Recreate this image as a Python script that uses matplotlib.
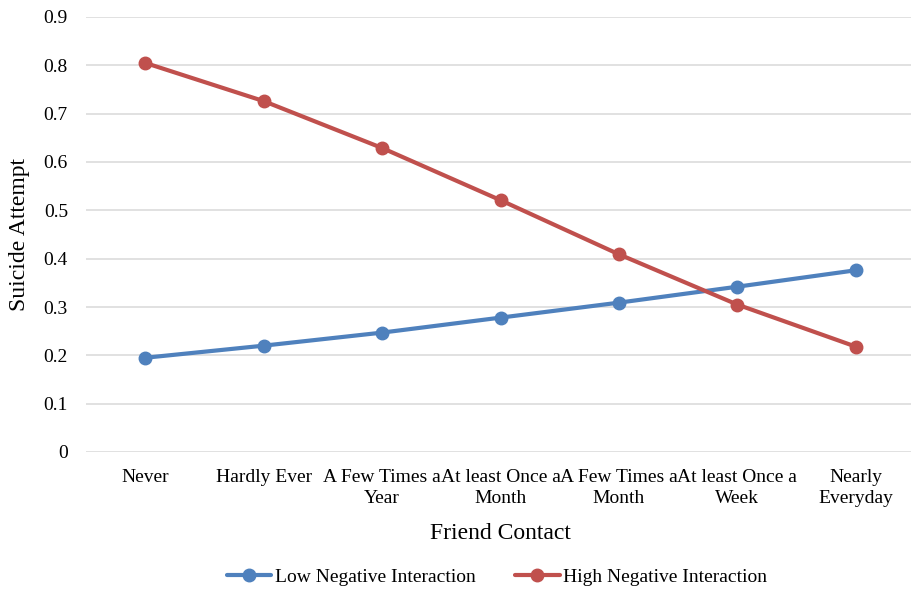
import matplotlib
matplotlib.use("Agg")
import matplotlib.pyplot as plt

categories = ["Never", "Hardly Ever", "A Few Times a\nYear", "At least Once a\nMonth",
              "A Few Times a\nMonth", "At least Once a\nWeek", "Nearly\nEveryday"]
low_neg = [0.195, 0.220, 0.247, 0.278, 0.309, 0.342, 0.376]
high_neg = [0.805, 0.726, 0.629, 0.521, 0.409, 0.305, 0.218]
yticks = [0, 0.1, 0.2, 0.3, 0.4, 0.5, 0.6, 0.7, 0.8, 0.9]
ytick_labels = ["0", "0.1", "0.2", "0.3", "0.4", "0.5", "0.6", "0.7", "0.8", "0.9"]

plt.rcParams['font.family'] = ['Liberation Serif', 'DejaVu Serif']

fig = plt.figure(figsize=(9.11, 5.93), dpi=100)
ax = fig.add_axes([86/911, 1-452/593, (915-86)/911, (452-17)/593])

x = list(range(len(categories)))
ax.plot(x, low_neg, color="#4F81BD", lw=3, marker="o", ms=9, label="Low Negative Interaction",
        solid_capstyle="round", zorder=3)
ax.plot(x, high_neg, color="#C0504D", lw=3, marker="o", ms=9, label="High Negative Interaction",
        solid_capstyle="round", zorder=3)

ax.set_xlim(-0.5, len(categories) - 0.5)
ax.set_ylim(0, 0.9)
ax.set_yticks(yticks)
ax.set_yticklabels(ytick_labels)
ax.set_xticks(x)
ax.set_xticklabels(categories, linespacing=1.3)
ax.tick_params(axis="both", length=0, labelsize=14, colors="#000000")
ax.tick_params(axis="y", pad=13)
ax.tick_params(axis="x", pad=12)
ax.grid(axis="y", color="#D9D9D9", lw=1.1)
ax.set_axisbelow(True)
for s in ax.spines.values():
    s.set_visible(False)

ax.set_xlabel("Friend Contact", fontsize=17, labelpad=12)
ax.set_ylabel("Suicide Attempt", fontsize=17, labelpad=10)

fig.legend(loc="center", bbox_to_anchor=(497/911, 1-577/593), ncol=2, frameon=False,
           fontsize=14, handlelength=2.3, columnspacing=2.0, handletextpad=0.2)

fig.savefig("out.png", dpi=100)
